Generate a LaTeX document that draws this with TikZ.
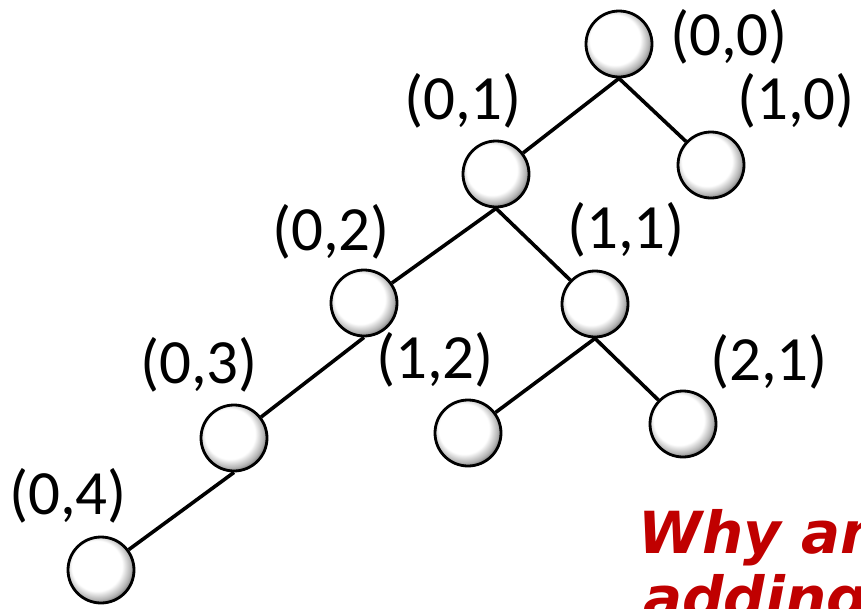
\documentclass[tikz,border=0pt]{standalone}
\usepackage{fontspec}
\setmainfont{Carlito}
\newfontfamily\remarkfont{DejaVu Sans}
\definecolor{remarkred}{RGB}{192,0,0}
\pgfdeclareradialshading{nodeball}{\pgfpoint{-5bp}{5bp}}{%
  color(0bp)=(white); color(19bp)=(white); color(25bp)=(black!30);
  color(29bp)=(black!65); color(32bp)=(black!85); color(50bp)=(black)}
\tikzset{
  vert/.style={circle, draw=black, line width=2.8pt, minimum size=66pt, inner sep=0pt, shading=nodeball},
  lbl/.style={font=\fontsize{63}{70}\selectfont, inner sep=0pt},
  edge/.style={line width=3.6pt, draw=black},
  remark/.style={font=\remarkfont\bfseries\itshape\fontsize{58}{66}\selectfont, text=remarkred, inner sep=0pt, anchor=base west}
}
\begin{document}
\begin{tikzpicture}[x=1pt,y=-1pt]
\useasboundingbox (0,0) rectangle (861,608);
\clip (0,0) rectangle (861,608);
% vertices
\node[vert] (n00) at (619,44) {};
\node[vert] (n10) at (711,165) {};
\node[vert] (n01) at (496,174) {};
\node[vert] (n02) at (364,303) {};
\node[vert] (n11) at (595,304) {};
\node[vert] (n03) at (234,438) {};
\node[vert] (n12) at (468,433) {};
\node[vert] (n21) at (683,424) {};
\node[vert] (n04) at (101,570) {};
% edges
\draw[edge] (n00.south) -- (n01);
\draw[edge] (n00.south) -- (n10);
\draw[edge] (n01.south) -- (n02);
\draw[edge] (n01.south) -- (n11);
\draw[edge] (n02.south) -- (n03);
\draw[edge] (n11.south) -- (n12);
\draw[edge] (n11.south) -- (n21);
\draw[edge] (n03.south) -- (n04);
% labels
\node[lbl] (l00) at (729,37) {(0,0)};
\node[lbl] (l10) at (796,101) {(1,0)};
\node[lbl] (l01) at (463,101) {(0,1)};
\node[lbl] (l02) at (331,232) {(0,2)};
\node[lbl] (l11) at (626,230) {(1,1)};
\node[lbl] (l03) at (199,365) {(0,3)};
\node[lbl] (l12) at (435,360) {(1,2)};
\node[lbl] (l21) at (769,362) {(2,1)};
\node[lbl] (l04) at (68,496) {(0,4)};
% remark
\node[remark] (r1) at (638,553) {Why am};
\node[remark] (r2) at (643,618) {adding};
\end{tikzpicture}
\end{document}
